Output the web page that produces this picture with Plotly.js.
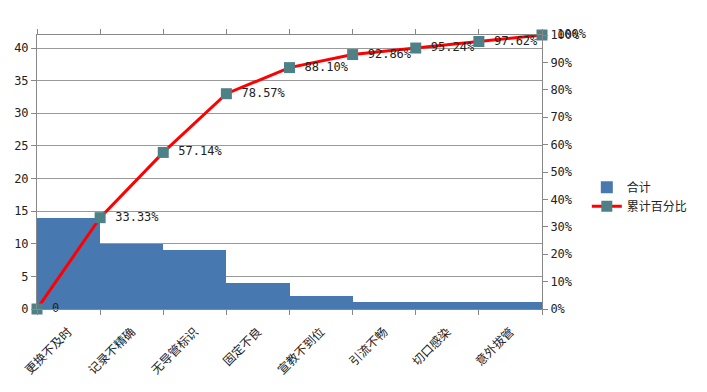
<!DOCTYPE html>
<html><head><meta charset="utf-8">
<script src="https://cdn.plot.ly/plotly-3.0.1.min.js"></script>
<style>body{margin:0;background:#fff}</style>
</head><body><div id="c" style="width:707px;height:392px"></div>
<script>
const categories = ['更换不及时','记录不精确','无导管标识','固定不良','宣教不到位','引流不畅','切口感染','意外拔管'];
const counts = [14, 10, 9, 4, 2, 1, 1, 1];
const cumPositions = [0, 1, 2, 3, 4, 5, 6, 7, 8];
const cumPercent = [0, 0.3333, 0.5714, 0.7857, 0.8810, 0.9286, 0.9524, 0.9762, 1.0];
const cumLabels = ['0','33.33%','57.14%','78.57%','88.10%','92.86%','95.24%','97.62%','100%'];

const F = 'DejaVu Sans Mono, Noto Sans CJK SC, monospace';
const traces = [
  {type:'bar', x:categories, y:counts, name:'合计', marker:{color:'#4878b0'}, xaxis:'x', yaxis:'y', hoverinfo:'none'},
  {type:'scatter', mode:'lines+markers+text', x:cumPositions, y:cumPercent, name:'累计百分比',
   xaxis:'x2', yaxis:'y2', text:cumLabels.map(s=>' '+s), textposition:'middle right',
   textfont:{family:F, size:12, color:'#222'}, cliponaxis:false,
   line:{color:'#ff0000', width:3}, marker:{symbol:'square', size:11, color:'#4e8087', line:{color:'#4e8087',width:0}}}
];
const layout = {
  width:707, height:392, margin:{l:37, r:165, t:35, b:83, autoexpand:false},
  paper_bgcolor:'#fff', plot_bgcolor:'#fff', bargap:0,
  font:{family:F, size:12, color:'#222'},
  xaxis:{type:'category', range:[-0.5,7.5], tickson:'boundaries', ticks:'outside', ticklen:5, tickcolor:'#888',
         showline:true, linecolor:'#888', mirror:'ticks', showgrid:false, tickangle:-45, ticklabelstandoff:10,
         automargin:false, tickfont:{family:F, size:12}},
  xaxis2:{overlaying:'x', range:[0,8], visible:false},
  yaxis:{range:[0,42], dtick:5, ticks:'outside', ticklen:5, tickcolor:'#888', showline:true, linecolor:'#888',
         gridcolor:'#999', gridwidth:1, zeroline:false, automargin:false, tickfont:{size:12}},
  yaxis2:{overlaying:'y', side:'right', range:[0,1], dtick:0.1, tickformat:'.0%', ticks:'outside', ticklen:5,
          tickcolor:'#888', showline:true, linecolor:'#888', showgrid:false, zeroline:false, automargin:false, tickfont:{size:12}},
  legend:{xref:'container', x:0.83, y:0.41, xanchor:'left', yanchor:'middle', tracegroupgap:4,
          font:{family:F, size:12}, bgcolor:'rgba(0,0,0,0)'},
  showlegend:true
};
Plotly.newPlot('c', traces, layout, {displayModeBar:false, staticPlot:true});
</script></body></html>
